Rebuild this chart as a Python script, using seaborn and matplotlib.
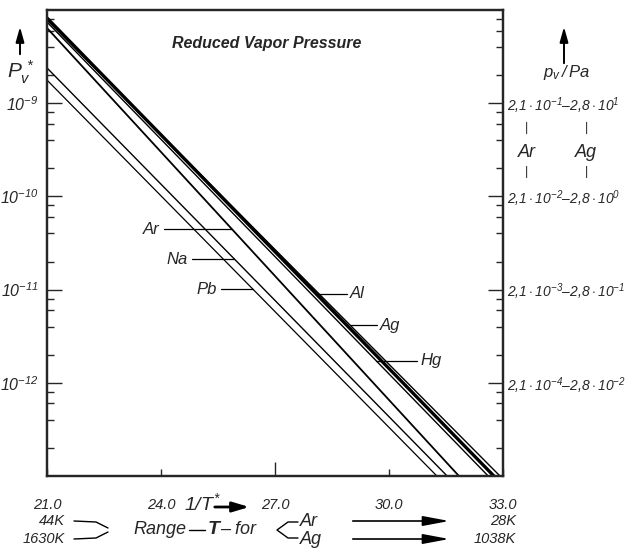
import matplotlib
matplotlib.use("Agg")
import matplotlib.pyplot as plt
import numpy as np
import pandas as pd
import seaborn as sns
from matplotlib.lines import Line2D
from matplotlib.ticker import FixedLocator, NullFormatter

# ---------------- data ----------------
elements = ["Hg", "Al", "Ag", "Ar", "Na", "Pb"]
inv_t_left = [21.0, 21.0, 21.0, 21.0, 21.0, 21.0]
p_left = [7.43e-9, 8.20e-9, 7.82e-9, 6.41e-9, 2.39e-9, 1.77e-9]
inv_t_bottom = [32.61, 32.76, 32.92, 31.84, 31.53, 31.26]
p_bottom = [1e-13, 1e-13, 1e-13, 1e-13, 1e-13, 1e-13]
line_widths = [1.0, 2.4, 1.0, 1.3, 1.0, 0.9]

x_ticks = [21.0, 24.0, 27.0, 30.0, 33.0]
x_tick_labels = ["21.0", "24.0", "27.0", "30.0", "33.0"]
y_major = [1e-12, 1e-11, 1e-10, 1e-9]
y_left_labels = [r"$10^{-12}$", r"$10^{-11}$", r"$10^{-10}$", r"$10^{-9}$"]
y_right_labels = [r"$2{,}1\cdot10^{-4}$–$2{,}8\cdot10^{-2}$",
                  r"$2{,}1\cdot10^{-3}$–$2{,}8\cdot10^{-1}$",
                  r"$2{,}1\cdot10^{-2}$–$2{,}8\cdot10^{0}$",
                  r"$2{,}1\cdot10^{-1}$–$2{,}8\cdot10^{1}$"]

left_labels = ["Ar", "Na", "Pb"]
left_label_logp = [-10.35, -10.672, -10.994]
left_label_x = [23.97, 24.71, 25.47]
right_labels = ["Al", "Ag", "Hg"]
right_label_logp = [-11.047, -11.38, -11.766]
right_label_x = [28.97, 29.76, 30.82]

# ---------------- style ----------------
sns.set_style("ticks")
plt.rcParams["font.family"] = ["Liberation Sans", "DejaVu Sans"]
plt.rcParams["mathtext.fontset"] = "custom"
plt.rcParams["mathtext.it"] = "Liberation Sans:italic"
plt.rcParams["mathtext.rm"] = "Liberation Sans:italic"
plt.rcParams["mathtext.default"] = "it"

rows = []
for el, x0, p0, x1, p1 in zip(elements, inv_t_left, p_left, inv_t_bottom, p_bottom):
    rows.append((el, x0, p0))
    rows.append((el, x1, p1))
df = pd.DataFrame(rows, columns=["element", "inv_T", "P"])

W, H = 627, 556
fig = plt.figure(figsize=(W / 100, H / 100), dpi=100)
ax = fig.add_axes([47 / W, 1 - 476 / H, 456 / W, 466 / H])
ax.set_yscale("log")

for el, lw in zip(elements, line_widths):
    sns.lineplot(data=df[df["element"] == el], x="inv_T", y="P", ax=ax,
                 color="black", lw=lw, estimator=None, sort=False)

ax.set_xlim(21, 33)
ax.set_ylim(1e-13, 1e-8)
ax.set_xlabel("")
ax.set_ylabel("")
for s in ax.spines.values():
    s.set_linewidth(1.6)

minor = [m * 10.0 ** e for e in range(-13, -8) for m in (2, 4, 6, 8)]
ax.yaxis.set_major_locator(FixedLocator(y_major))
ax.yaxis.set_minor_locator(FixedLocator(minor))
ax.set_yticklabels(y_left_labels)
ax.yaxis.set_minor_formatter(NullFormatter())
ax.tick_params(axis="y", which="major", direction="in", length=11, width=1,
               pad=6, labelsize=11.5)
ax.tick_params(axis="y", which="minor", direction="in", length=5, width=1)

ax.set_xticks(x_ticks)
ax.set_xticklabels(x_tick_labels, fontstyle="italic")
ax.tick_params(axis="x", which="major", direction="in", length=5, width=1,
               pad=16, labelsize=10.5)
ax.xaxis.set_minor_locator(FixedLocator([]))
ax.xaxis.get_major_ticks()[2].tick1line.set_markersize(10)

ax2 = ax.twinx()
ax2.set_yscale("log")
ax2.set_ylim(1e-13, 1e-8)
ax2.yaxis.set_major_locator(FixedLocator(y_major))
ax2.yaxis.set_minor_locator(FixedLocator(minor))
ax2.set_yticklabels(y_right_labels)
ax2.yaxis.set_minor_formatter(NullFormatter())
ax2.tick_params(axis="y", which="major", direction="in", length=11, width=1,
                pad=3, labelsize=10)
ax2.tick_params(axis="y", which="minor", direction="in", length=5, width=1)
for s in ax2.spines.values():
    s.set_linewidth(1.6)


def line_x_at(el, lp):
    i = elements.index(el)
    l0, l1 = np.log10(p_left[i]), np.log10(p_bottom[i])
    return inv_t_left[i] + (lp - l0) / (l1 - l0) * (inv_t_bottom[i] - inv_t_left[i])


for el, lp, tx in zip(left_labels, left_label_logp, left_label_x):
    y = 10 ** lp
    ax.text(tx, y, el, ha="right", va="center", fontsize=12, fontstyle="italic")
    ax.plot([tx + 0.1, line_x_at(el, lp)], [y, y], color="black", lw=0.9)

for el, lp, tx in zip(right_labels, right_label_logp, right_label_x):
    y = 10 ** lp
    ax.text(tx, y, el, ha="left", va="center", fontsize=12, fontstyle="italic")
    ax.plot([line_x_at(el, lp), tx - 0.08], [y, y], color="black", lw=0.9)

ax.text(0.274, 0.929, "Reduced Vapor Pressure", transform=ax.transAxes,
        ha="left", va="center", fontsize=11.5, fontstyle="italic",
        fontweight="bold")


def fpx(x, y):
    return (x / W, 1 - y / H)


def arrow(x0, y0, x1, y1, lw=1.2, hl=0.9, hw=0.25):
    fig.add_artist(matplotlib.patches.FancyArrowPatch(
        fpx(x0, y0), fpx(x1, y1), transform=fig.transFigure,
        arrowstyle=f"-|>,head_length={hl},head_width={hw}",
        mutation_scale=10, color="black", lw=lw))


def poly(xs, ys, lw=1.0):
    fig.add_artist(Line2D([x / W for x in xs], [1 - y / H for y in ys],
                          transform=fig.transFigure, color="black", lw=lw))


# left axis label
arrow(20, 57, 20, 24, lw=1.4)
fig.text(*fpx(21, 72), r"$P_v^{\,*}$", ha="center", va="center", fontsize=15)

# right axis header
arrow(564, 66, 564, 24, lw=1.4)
fig.text(*fpx(566, 72), r"$p_v\,/\,Pa$", ha="center", va="center", fontsize=12)
for x in (527, 586):
    fig.text(*fpx(x, 128), "|", ha="center", va="center", fontsize=9)
    fig.text(*fpx(x, 172), "|", ha="center", va="center", fontsize=9)
fig.text(*fpx(527, 152), "Ar", ha="center", va="center", fontsize=13,
         fontstyle="italic")
fig.text(*fpx(586, 152), "Ag", ha="center", va="center", fontsize=13,
         fontstyle="italic")

# x axis label
fig.text(*fpx(184, 503), r"$1/T^{*}$", ha="left", va="center", fontsize=14)
arrow(212, 507, 252, 507, lw=2.0, hl=1.0, hw=0.3)

# temperature range rows
r1, r2 = 521, 539
rm = (r1 + r2) / 2
fig.text(*fpx(65, r1), "44K", ha="right", va="center", fontsize=10.5, fontstyle="italic")
fig.text(*fpx(65, r2), "1630K", ha="right", va="center", fontsize=10.5, fontstyle="italic")
poly([74, 96, 108], [r1, r1 + 1, r1 + 7])
poly([74, 96, 108], [r2, r2 - 1, r2 - 7])
fig.text(*fpx(133, rm), "Range", ha="left", va="center", fontsize=13, fontstyle="italic")
poly([189, 205], [rm, rm])
fig.text(*fpx(214, rm), "T", ha="center", va="center", fontsize=14,
         fontstyle="italic", fontweight="bold")
fig.text(*fpx(220, rm), "– for", ha="left", va="center", fontsize=13, fontstyle="italic")
poly([298, 288, 277, 288, 298], [r1 + 1, r1 + 1, rm, r2 - 1, r2 - 1])
fig.text(*fpx(300, r1), "Ar", ha="left", va="center", fontsize=13, fontstyle="italic")
fig.text(*fpx(300, r2), "Ag", ha="left", va="center", fontsize=13, fontstyle="italic")
arrow(350, r1, 452, r1, lw=1.2, hl=1.6, hw=0.3)
arrow(350, r2, 452, r2, lw=1.2, hl=1.6, hw=0.3)
fig.text(*fpx(516, r1), "28K", ha="right", va="center", fontsize=10.5, fontstyle="italic")
fig.text(*fpx(516, r2), "1038K", ha="right", va="center", fontsize=10.5, fontstyle="italic")

fig.savefig("out.png", dpi=100)
